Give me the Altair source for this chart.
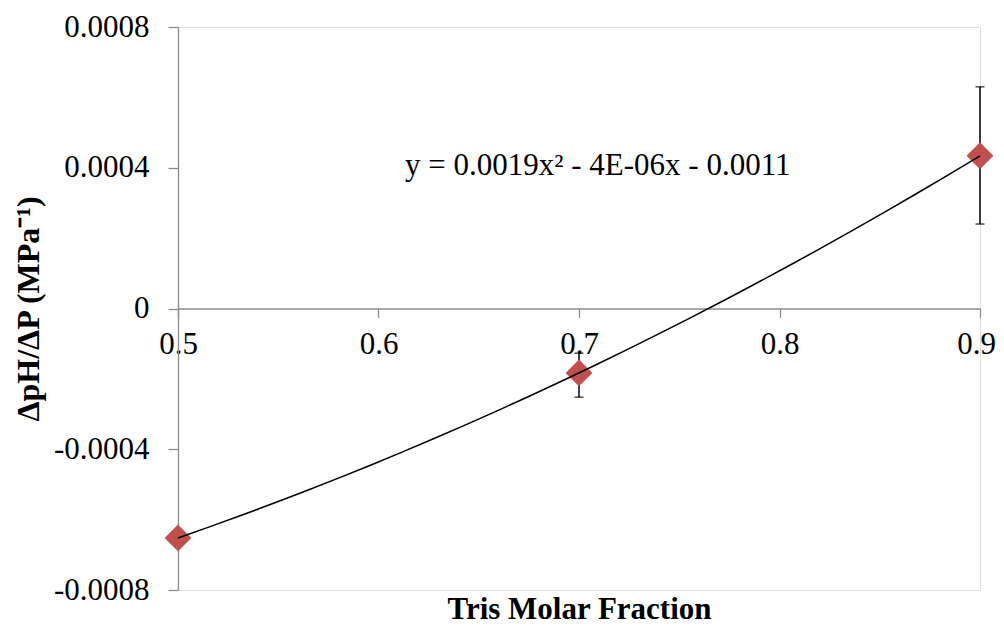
import altair as alt
import pandas as pd

# Data
x_vals = [0.5, 0.7, 0.9]
y_vals = [-0.000652, -0.000183, 0.000434]

err_x = [0.7, 0.9]
err_low = [-0.000252, 0.00024]
err_high = [-0.000127, 0.00063]

x_ticks = [0.5, 0.6, 0.7, 0.8, 0.9]
y_ticks = [-0.0008, -0.0004, 0, 0.0004, 0.0008]

equation = "y = 0.0019x\u00b2 - 4E-06x - 0.0011"
x_title = "Tris Molar Fraction"
y_title = "\u0394pH/\u0394P (MPa\u207b\u00b9)"

pts = pd.DataFrame({"x": x_vals, "y": y_vals})
errs = pd.DataFrame({"x": err_x, "lo": err_low, "hi": err_high})

FONT = "Liberation Serif"
AX = "#8c8c8c"

xscale = alt.Scale(domain=[0.5, 0.9], nice=False, zero=False)
yscale = alt.Scale(domain=[-0.0008, 0.0008], nice=False, zero=False)

PLOT_H = 563

xaxis = alt.Axis(
    values=x_ticks, labelExpr="'' + datum.value", grid=False,
    offset=-PLOT_H / 2, domainColor=AX, tickColor=AX, domainWidth=1.3, tickWidth=1.3,
    tickSize=9, labelPadding=12, labelFont=FONT, labelFontSize=31, labelColor="black",
    labelFlush=False, labelOverlap=False, labelBound=False,
    labelOffset={"condition": {"test": "datum.value == 0.9", "value": -4}, "value": 0},
    title=x_title, titleFont=FONT, titleFontSize=31, titleFontWeight="bold",
    titleColor="black", titleBaseline="alphabetic", titleY=310,
)
yaxis = alt.Axis(
    values=y_ticks, labelExpr="'' + datum.value", grid=False,
    domainColor=AX, tickColor=AX, domainWidth=1.3, tickWidth=1.3,
    tickSize=10, labelPadding=19, labelFont=FONT, labelFontSize=31, labelColor="black",
    labelOverlap=False,
    title=y_title, titleFont=FONT, titleFontSize=32, titleFontWeight="bold",
    titleColor="black", titleAngle=-90, titleAlign="center", titleBaseline="alphabetic",
    titleX=-140, titleY=PLOT_H / 2,
)

base_x = alt.X("x:Q", scale=xscale, axis=xaxis)
base_y = alt.Y("y:Q", scale=yscale, axis=yaxis)

err_rule = alt.Chart(errs).mark_rule(color="black", strokeWidth=1.5).encode(
    x=alt.X("x:Q", scale=xscale),
    y=alt.Y("lo:Q", scale=yscale),
    y2="hi:Q",
)
cap_lo = alt.Chart(errs).mark_tick(color="black", thickness=1.5, size=9, orient="horizontal").encode(
    x=alt.X("x:Q", scale=xscale), y=alt.Y("lo:Q", scale=yscale)
)
cap_hi = alt.Chart(errs).mark_tick(color="black", thickness=1.5, size=9, orient="horizontal").encode(
    x=alt.X("x:Q", scale=xscale), y=alt.Y("hi:Q", scale=yscale)
)

points = alt.Chart(pts).mark_point(
    shape="diamond", filled=True, color="#C0504D", size=720, opacity=1
).encode(x=base_x, y=base_y)

trend = alt.Chart(pts).transform_regression(
    "x", "y", method="poly", order=2, extent=[0.5, 0.9]
).mark_line(color="black", strokeWidth=1.5).encode(
    x=alt.X("x:Q", scale=xscale), y=alt.Y("y:Q", scale=yscale)
)

eq_text = alt.Chart(pts).mark_text(
    text=equation, font=FONT, fontSize=31, align="left", baseline="alphabetic", color="black"
).encode(
    x=alt.datum(0.6132, scale=xscale), y=alt.datum(0.00038, scale=yscale)
).transform_filter("datum.x == 0.5")

chart = alt.layer(err_rule, cap_lo, cap_hi, points, trend, eq_text).properties(
    width=802, height=PLOT_H,
    autosize=alt.AutoSizeParams(type="none"),
    padding={"left": 170, "top": 19, "right": 16, "bottom": 33},
).configure_view(stroke=None).configure(background="white")

chart.save("out.html", embed_options={"renderer": "svg", "actions": False})
